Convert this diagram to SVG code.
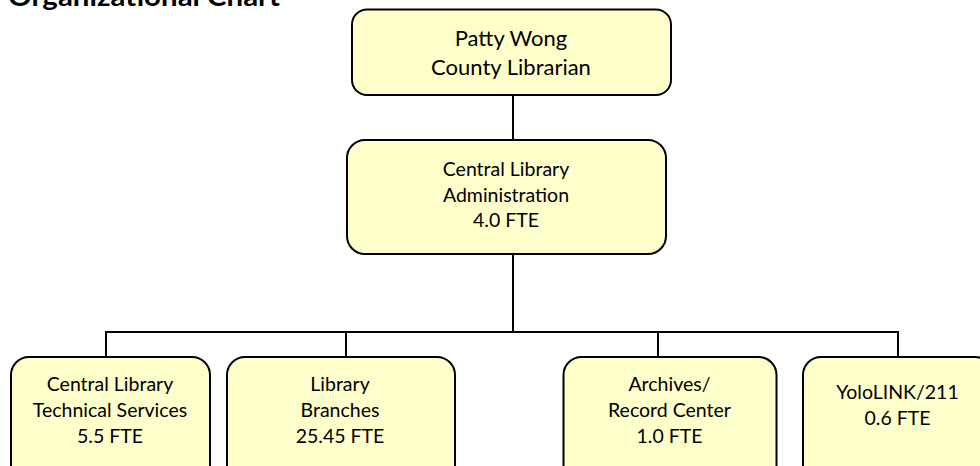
<svg xmlns="http://www.w3.org/2000/svg" width="980" height="466" viewBox="0 0 980 466">
<style>
.box{fill:#FFFFCC;stroke:#000;stroke-width:2}
.t{font-family:Lato,"Noto Sans",sans-serif;font-size:19.5px;fill:#000;text-anchor:middle}
.big{font-size:22px}
.title{font-family:Lato,"Noto Sans",sans-serif;font-size:27px;font-weight:bold;fill:#000}
.c{stroke:#000;stroke-width:2;fill:none}
</style>
<rect width="980" height="466" fill="#fff"/>
<text class="title" x="8" y="6" textLength="272" lengthAdjust="spacingAndGlyphs">Organizational Chart</text>
<g id="connectors">
<path class="c" d="M513 95V140M513 254V332M106 332H898M106 331V357M346 331V357M658 331V357M898 331V357"/>
</g>
<g id="n-director">
<rect class="box" x="352" y="9.5" width="319" height="85.5" rx="15"/>
<text class="t big" x="511" y="45.5">Patty Wong</text>
<text class="t big" x="511" y="75">County Librarian</text>
</g>
<g id="n-admin">
<rect class="box" x="347" y="140" width="319" height="114" rx="18"/>
<text class="t" x="506" y="175.5">Central Library</text>
<text class="t" x="506" y="201.5">Administration</text>
<text class="t" x="506" y="226.5">4.0 FTE</text>
</g>
<g id="n-tech">
<rect class="box" x="11" y="357" width="199" height="130" rx="18"/>
<text class="t" x="110" y="390.5">Central Library</text>
<text class="t" x="110" y="416.5">Technical Services</text>
<text class="t" x="110" y="442.5">5.5 FTE</text>
</g>
<g id="n-branches">
<rect class="box" x="227" y="357" width="228" height="130" rx="18"/>
<text class="t" x="340" y="390.5">Library</text>
<text class="t" x="340" y="416.5">Branches</text>
<text class="t" x="340" y="442.5">25.45 FTE</text>
</g>
<g id="n-archives">
<rect class="box" x="563.5" y="357" width="213" height="130" rx="18"/>
<text class="t" x="669.5" y="390.5">Archives/</text>
<text class="t" x="669.5" y="416.5">Record Center</text>
<text class="t" x="669.5" y="442.5">1.0 FTE</text>
</g>
<g id="n-yololink">
<rect class="box" x="803" y="357" width="190" height="130" rx="18"/>
<text class="t" x="897.5" y="398.5">YoloLINK/211</text>
<text class="t" x="897.5" y="424.5">0.6 FTE</text>
</g>
</svg>
